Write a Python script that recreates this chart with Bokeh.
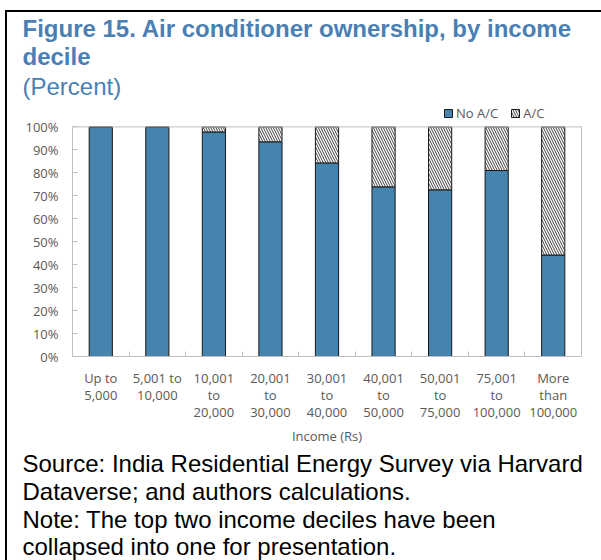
from bokeh.plotting import figure
from bokeh.models import (Range1d, FixedTicker, Legend, LegendItem, Title, ColumnDataSource,
                          LinearAxis, Span)
from bokeh.transform import stack
from bokeh.embed import file_html
from bokeh.resources import INLINE

# ---------------- data ----------------
income_labels = ["Up to\n5,000", "5,001 to\n10,000", "10,001\nto\n20,000", "20,001\nto\n30,000",
                 "30,001\nto\n40,000", "40,001\nto\n50,000", "50,001\nto\n75,000",
                 "75,001\nto\n100,000", "More\nthan\n100,000"]
no_ac = [99.8, 99.8, 97.8, 93.5, 84.3, 73.9, 72.6, 81.0, 44.2]
ac = [0.2, 0.2, 2.2, 6.5, 15.7, 26.1, 27.4, 19.0, 55.8]
series_names = ["No A/C", "A/C"]
y_ticks = [0, 10, 20, 30, 40, 50, 60, 70, 80, 90, 100]
y_tick_labels = ["0%", "10%", "20%", "30%", "40%", "50%", "60%", "70%", "80%", "90%", "100%"]
x_title = "Income (Rs)"
title_text = "Figure 15. Air conditioner ownership, by income\ndecile"
subtitle = "(Percent)"
source_text = ("Source: India Residential Energy Survey via Harvard\n"
               "Dataverse; and authors calculations.\n"
               "Note: The top two income deciles have been\n"
               "collapsed into one for presentation.")

# ---------------- style ----------------
W, H = 601, 560
ML, MR, MT, MB = 72, 20, 100, 203
Y_MAX = 100
Y_END = 111.5          # headroom inside the frame for the legend
BLUE = "#4686B0"
TITLE_BLUE = "#4A7FB4"
GRAY_TXT = "#595959"
AXIS_GRAY = "#bfbfbf"
LAB_FONT = "Open Sans"
TXT_FONT = "Liberation Sans"

x_pos = list(range(len(income_labels)))
boundaries = [i + 0.5 for i in x_pos[:-1]]

src = ColumnDataSource(dict(x=x_pos, no_ac=no_ac, ac=ac))

p = figure(width=W, height=H, x_range=Range1d(-0.5, len(x_pos) - 0.5), y_range=Range1d(0, Y_END),
           output_backend="svg", toolbar_location=None,
           min_border_left=ML, min_border_right=MR, min_border_top=MT, min_border_bottom=MB,
           background_fill_color="white", border_fill_alpha=0)
p.styles = {"background": ("linear-gradient(#000, #000) 5px 10px / 2px calc(100% - 10px) no-repeat, "
                           "linear-gradient(#000, #000) 5px 10px / calc(100% - 5px) 2px no-repeat, white")}
p.outline_line_color = None
p.grid.visible = False

r1 = p.vbar(x="x", width=0.41, bottom=0, top="no_ac", source=src,
            fill_color=BLUE, line_color="#1a1a1a", line_width=1,
            hatch_pattern="/", hatch_color="#3a76a0", hatch_alpha=0.5, hatch_scale=4, hatch_weight=0.6)
r2 = p.vbar(x="x", width=0.41, bottom="no_ac", top=stack("no_ac", "ac"), source=src,
            fill_color="white", line_color="#1a1a1a", line_width=1,
            hatch_pattern="\\", hatch_color="#404040", hatch_scale=5, hatch_weight=1)

# plot-area box: top edge at 100 %
p.add_layout(Span(location=Y_MAX, dimension="width", line_color=AXIS_GRAY, line_width=1))

# y axis
ya = p.yaxis[0]
ya.bounds = (0, Y_MAX)
ya.ticker = FixedTicker(ticks=y_ticks, minor_ticks=[])
ya.major_label_overrides = {t: l for t, l in zip(y_ticks, y_tick_labels)}
ya.major_tick_in = 5
ya.major_tick_out = 0
ya.minor_tick_in = 0
ya.minor_tick_out = 0
ya.axis_line_color = AXIS_GRAY
ya.major_tick_line_color = AXIS_GRAY
ya.major_label_text_font = LAB_FONT
ya.major_label_text_font_size = "13px"
ya.major_label_text_color = GRAY_TXT
ya.major_label_standoff = 14

# right edge of the plot-area box
ra = LinearAxis(bounds=(0, Y_MAX), ticker=FixedTicker(ticks=[], minor_ticks=[]),
                axis_line_color=AXIS_GRAY, major_tick_line_color=None, minor_tick_line_color=None,
                major_label_text_font_size="0px")
p.add_layout(ra, "right")

# x axis
xa = p.xaxis[0]
xa.ticker = FixedTicker(ticks=x_pos, minor_ticks=boundaries)
xa.major_label_overrides = {t: l for t, l in zip(x_pos, income_labels)}
xa.major_tick_in = 0
xa.major_tick_out = 0
xa.minor_tick_in = 5
xa.minor_tick_out = 0
xa.minor_tick_line_color = AXIS_GRAY
xa.axis_line_color = AXIS_GRAY
xa.major_label_text_font = LAB_FONT
xa.major_label_text_font_size = "13px"
xa.major_label_text_color = GRAY_TXT
xa.major_label_text_line_height = 0.96
xa.major_label_standoff = 12
xa.axis_label = x_title
xa.axis_label_text_font = LAB_FONT
xa.axis_label_text_font_size = "13px"
xa.axis_label_text_color = GRAY_TXT
xa.axis_label_text_font_style = "normal"
xa.axis_label_standoff = 3

legend = Legend(items=[LegendItem(label=series_names[0], renderers=[r1]),
                       LegendItem(label=series_names[1], renderers=[r2])],
                orientation="horizontal", location=(371, 234),
                glyph_width=10, glyph_height=10, label_standoff=3, spacing=12,
                padding=0, margin=0, border_line_color=None, background_fill_alpha=0,
                label_text_font=LAB_FONT, label_text_font_size="13px",
                label_text_color=GRAY_TXT, label_height=12)
p.add_layout(legend, "center")

p.add_layout(Title(text=subtitle, align="left", offset=-50, standoff=2,
                   text_font=TXT_FONT, text_font_size="24px", text_font_style="normal",
                   text_color=TITLE_BLUE), "above")
p.add_layout(Title(text=title_text, align="left", offset=-50, standoff=-1,
                   text_font=TXT_FONT, text_font_size="24px", text_font_style="bold",
                   text_color=TITLE_BLUE, text_line_height=1.03), "above")

p.add_layout(Title(text=source_text, align="left", offset=-50, standoff=0,
                   text_font=TXT_FONT, text_font_size="24px", text_font_style="normal",
                   text_color="black", text_line_height=1.03), "below")

open("out.html", "w").write(file_html(p, INLINE))
